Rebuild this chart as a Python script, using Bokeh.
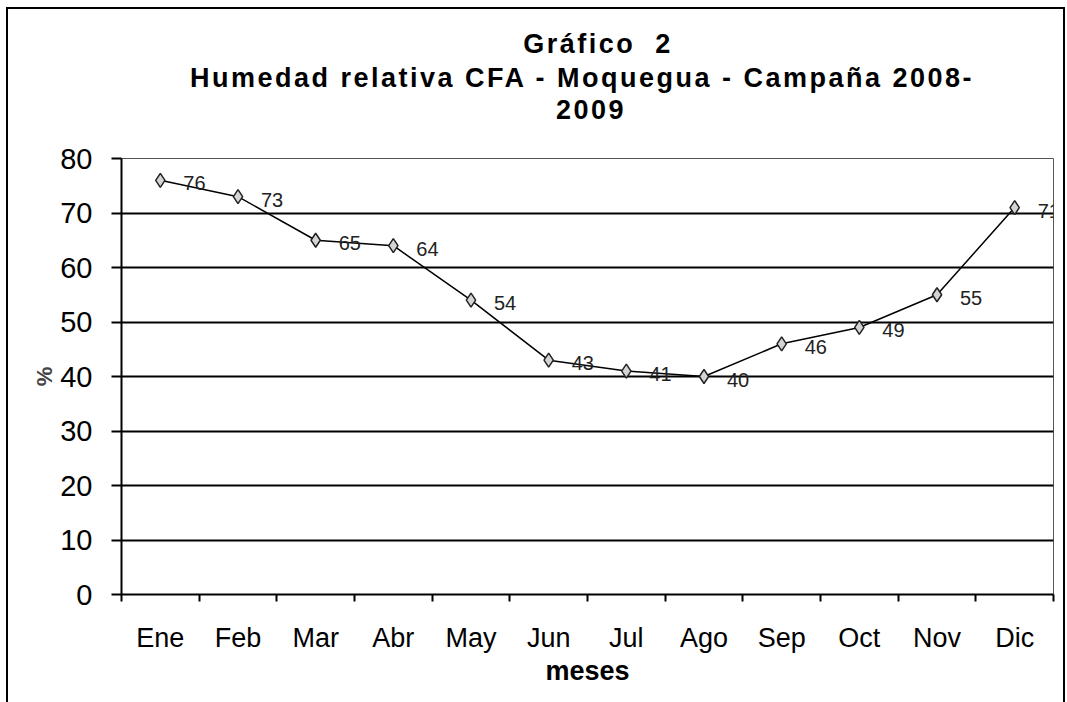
from bokeh.plotting import figure
from bokeh.layouts import column
from bokeh.models import Range1d, FixedTicker, Div, ColumnDataSource, InlineStyleSheet
from bokeh.core.properties import value
from bokeh.embed import file_html
from bokeh.resources import INLINE

meses = ["Ene", "Feb", "Mar", "Abr", "May", "Jun", "Jul", "Ago", "Sep", "Oct", "Nov", "Dic"]
humedad = [76, 73, 65, 64, 54, 43, 41, 40, 46, 49, 55, 71]
y_ticks = [0, 10, 20, 30, 40, 50, 60, 70, 80]
titulo = ["Gráfico  2", "Humedad relativa CFA - Moquegua - Campaña 2008-", "2009"]

FONT = "Liberation Sans"

xs = [i + 0.5 for i in range(len(meses))]
src = ColumnDataSource(dict(x=xs, y=humedad, lab=[str(v) for v in humedad]))

W = 1066
TITLE_H = 140
PLOT_H = 702 - TITLE_H

# ---- title block (HTML text, centred lines) ----
title_layout = [(598, 33), (582, 67), (591, 99)]  # (centre x, top y) in px
lines_html = "".join(
    f'<div style="position:absolute;left:{cx}px;top:{ty}px;transform:translateX(-50%);'
    f'white-space:pre;line-height:22px;">{t}</div>'
    for t, (cx, ty) in zip(titulo, title_layout))
title_div = Div(
    text=(f'<div style="position:relative;width:{W}px;height:{TITLE_H}px;'
          f"font-family:'{FONT}';font-weight:bold;font-size:27px;letter-spacing:2.5px;"
          f'color:#000;">{lines_html}</div>'),
    width=W, height=TITLE_H, styles={"margin": "0", "padding": "0", "overflow": "hidden"})

# ---- plot ----
p = figure(width=W, height=PLOT_H, output_backend="svg", toolbar_location=None,
           x_range=Range1d(0, len(meses)), y_range=Range1d(0, 80),
           min_border_left=121, min_border_right=13, min_border_top=18, min_border_bottom=108)
p.background_fill_color = "white"
p.border_fill_color = "white"
p.outline_line_color = "#555555"
p.outline_line_width = 1

# grid
p.xgrid.grid_line_color = None
p.ygrid.grid_line_color = "black"
p.ygrid.grid_line_width = 2
p.ygrid.ticker = FixedTicker(ticks=y_ticks)

# y axis
p.yaxis.ticker = FixedTicker(ticks=y_ticks)
p.yaxis.axis_line_color = "black"
p.yaxis.axis_line_width = 2
p.yaxis.major_tick_line_color = "black"
p.yaxis.major_tick_line_width = 2
p.yaxis.major_tick_out = 10
p.yaxis.major_tick_in = 0
p.yaxis.minor_tick_line_color = None
p.yaxis.major_label_text_font = FONT
p.yaxis.major_label_text_font_size = "29px"
p.yaxis.major_label_text_color = "black"
p.yaxis.major_label_standoff = 19
p.yaxis.axis_label = "%"
p.yaxis.axis_label_text_font = FONT
p.yaxis.axis_label_text_font_size = "22px"
p.yaxis.axis_label_text_font_style = "bold"
p.yaxis.axis_label_standoff = 0

# x axis (category boundaries as tick marks)
p.xaxis.ticker = FixedTicker(ticks=xs, minor_ticks=list(range(len(meses) + 1)))
p.xaxis.major_label_overrides = {x: m for x, m in zip(xs, meses)}
p.xaxis.axis_line_color = "black"
p.xaxis.axis_line_width = 2
p.xaxis.major_tick_line_color = None
p.xaxis.major_tick_out = 0
p.xaxis.major_tick_in = 0
p.xaxis.minor_tick_line_color = "black"
p.xaxis.minor_tick_line_width = 2
p.xaxis.minor_tick_out = 7
p.xaxis.minor_tick_in = 0
p.xaxis.major_label_text_font = FONT
p.xaxis.major_label_text_font_size = "27px"
p.xaxis.major_label_text_color = "black"
p.xaxis.major_label_standoff = 21
p.xaxis.axis_label = "meses"
p.xaxis.axis_label_text_font = FONT
p.xaxis.axis_label_text_font_size = "27px"
p.xaxis.axis_label_text_font_style = "bold"
p.xaxis.axis_label_text_color = "black"
p.xaxis.axis_label_standoff = 0

# series
p.line("x", "y", source=src, line_color="black", line_width=1.5)
p.scatter("x", "y", source=src, marker="diamond", size=14, fill_color="#d4d4d4",
          line_color="#222222", line_width=1.5)
p.text("x", "y", text="lab", source=src, x_offset=23, y_offset=3,
       text_font=value(FONT), text_font_size="20px", text_color="#222222",
       text_baseline="middle", text_align="left")

layout = column(title_div, p, spacing=0)
layout.stylesheets = [InlineStyleSheet(css="""
:host { position: relative; }
:host::after { content: ''; position: absolute; left: 6px; top: 7px; right: 1px; bottom: -2px;
  border-left: 2px solid #000; border-top: 2px solid #000; border-right: 2px solid #000;
  pointer-events: none; z-index: 10; }
""")]

open("out.html", "w").write(file_html(layout, INLINE))
